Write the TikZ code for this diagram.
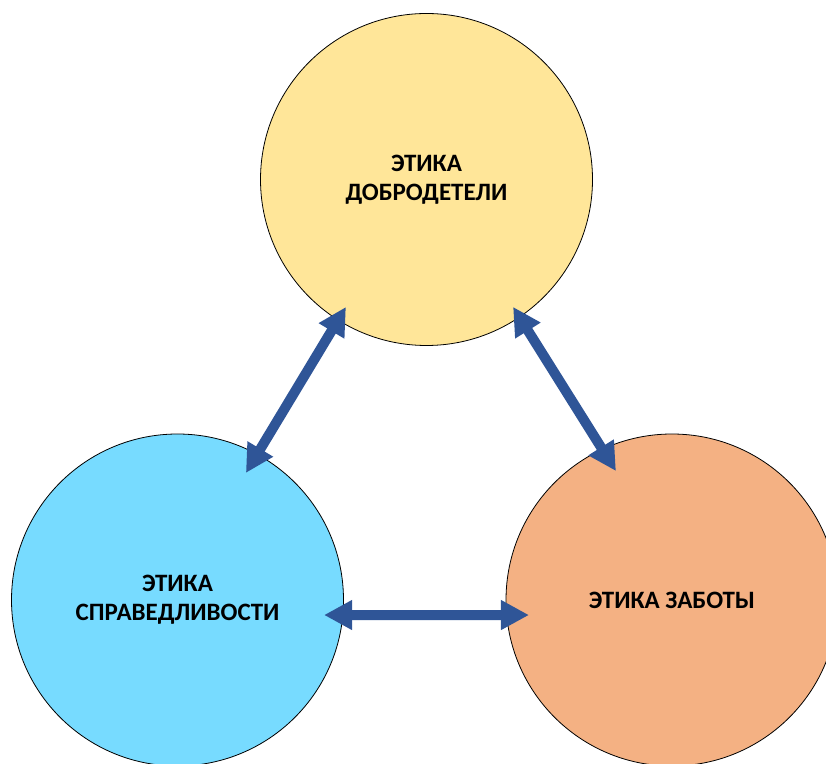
\documentclass[tikz,border=0pt]{standalone}
\usepackage{fontspec}
\setmainfont{Carlito}
\usetikzlibrary{arrows.meta,calc}
\definecolor{cyellow}{HTML}{FFE699}
\definecolor{cblue}{HTML}{77DBFF}
\definecolor{corange}{HTML}{F4B183}
\definecolor{carrow}{HTML}{2F5597}
\tikzset{
  ethic/.style={circle, draw=black, line width=0.8pt, inner sep=0pt, outer sep=0pt,
    minimum size=332pt, align=center, font=\bfseries\fontsize{25}{29}\selectfont},
  arr/.style={carrow, line width=10pt, {Triangle[length=28pt,width=28pt]}-{Triangle[length=28pt,width=28pt]}}
}
\begin{document}
\begin{tikzpicture}[x=1pt,y=1pt]
\useasboundingbox (0,0) rectangle (826,763);
\clip (0,0) rectangle (826,763);
\node[ethic, fill=cyellow] (top) at (426.5,583.5) {ЭТИКА\\ДОБРОДЕТЕЛИ};
\node[ethic, fill=cblue] (left) at (177.5,163) {ЭТИКА\\СПРАВЕДЛИВОСТИ};
\node[ethic, fill=corange] (right) at (672,163) {ЭТИКА ЗАБОТЫ};
\draw[arr] ($(top.center)+(237.7:150.8)$) -- ($(left.center)+(61.7:144.3)$);
\draw[arr] ($(top.center)+(304.2:154)$) -- ($(right.center)+(113.5:140.6)$);
\draw[arr] ($(left.center)+(-5.85:147.3)$) -- ($(right.center)+(186:143.8)$);
\end{tikzpicture}
\end{document}
